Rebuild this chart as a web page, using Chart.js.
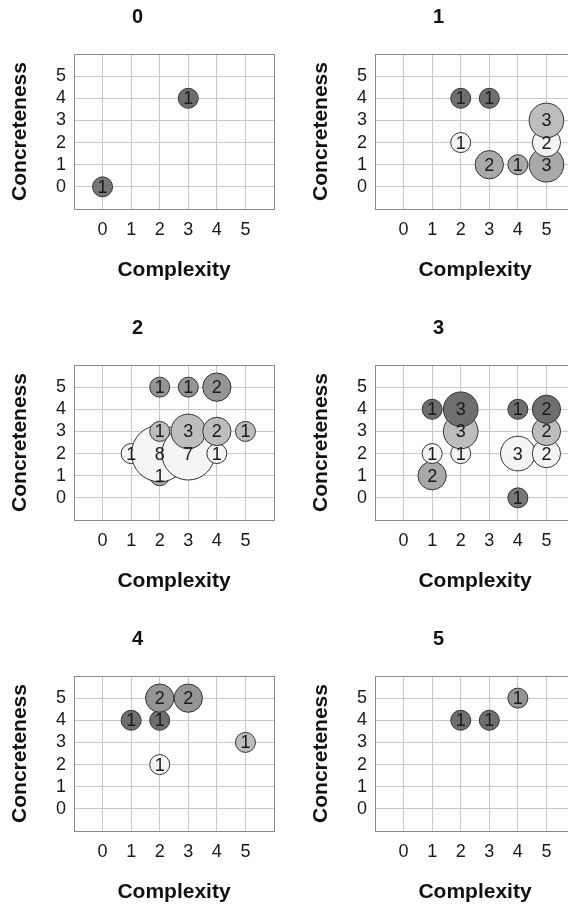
<!DOCTYPE html>
<html>
<head>
<meta charset="utf-8">
<script src="https://cdn.jsdelivr.net/npm/chart.js@4.4.1/dist/chart.umd.min.js"></script>
<style>
  html, body { margin: 0; padding: 0; width: 568px; height: 906px; overflow: hidden; background: #fff; }
  canvas { position: absolute; }
</style>
</head>
<body>
<canvas id="c0" width="284" height="300" style="left:0;top:0"></canvas>
<canvas id="c1" width="284" height="300" style="left:301px;top:0"></canvas>
<canvas id="c2" width="284" height="300" style="left:0;top:311px"></canvas>
<canvas id="c3" width="284" height="300" style="left:301px;top:311px"></canvas>
<canvas id="c4" width="284" height="300" style="left:0;top:622px"></canvas>
<canvas id="c5" width="284" height="300" style="left:301px;top:622px"></canvas>
<script>
// dados de cada painel (x = complexidade, y = concretude, n = quantidade)
const panelTitles = ["0", "1", "2", "3", "4", "5"];
const tickLabels = ["0", "1", "2", "3", "4", "5"];

const complexity0 = [0, 3];
const concreteness0 = [0, 4];
const count0 = [1, 1];

const complexity1 = [3, 4, 5, 2, 5, 5, 2, 3];
const concreteness1 = [1, 1, 1, 2, 2, 3, 4, 4];
const count1 = [2, 1, 3, 1, 2, 3, 1, 1];

const complexity2 = [2, 1, 2, 3, 4, 2, 3, 4, 5, 2, 3, 4];
const concreteness2 = [1, 2, 2, 2, 2, 3, 3, 3, 3, 5, 5, 5];
const count2 = [1, 1, 8, 7, 1, 1, 3, 2, 1, 1, 1, 2];

const complexity3 = [4, 1, 1, 2, 4, 5, 2, 5, 1, 2, 4, 5];
const concreteness3 = [0, 1, 2, 2, 2, 2, 3, 3, 4, 4, 4, 4];
const count3 = [1, 2, 1, 1, 3, 2, 3, 2, 1, 3, 1, 2];

const complexity4 = [2, 5, 1, 2, 2, 3];
const concreteness4 = [2, 3, 4, 4, 5, 5];
const count4 = [1, 1, 1, 1, 2, 2];

const complexity5 = [2, 3, 4];
const concreteness5 = [4, 4, 5];
const count5 = [1, 1, 1];

const panels = [
  [complexity0, concreteness0, count0],
  [complexity1, concreteness1, count1],
  [complexity2, concreteness2, count2],
  [complexity3, concreteness3, count3],
  [complexity4, concreteness4, count4],
  [complexity5, concreteness5, count5]
];

// tons de cinza por nivel de concretude
const tons = { 0: "#777777", 1: "#a9a9a9", 2: "#f4f4f4", 3: "#bdbdbd", 4: "#6e6e6e", 5: "#959595" };
const fonte = "'Liberation Sans', Arial, Helvetica, sans-serif";

const rotulos = {
  id: "rotulos",
  afterDatasetsDraw(chart) {
    const ctx = chart.ctx;
    const meta = chart.getDatasetMeta(0);
    const counts = chart.data.datasets[0].counts;
    ctx.save();
    ctx.font = "18px " + fonte;
    ctx.fillStyle = "#1a1a1a";
    ctx.textAlign = "center";
    ctx.textBaseline = "middle";
    meta.data.forEach((el, i) => {
      ctx.fillText(String(counts[i]), el.x, el.y + 1);
    });
    ctx.restore();
  }
};

function corGrade(c) {
  if (c.tick && (c.tick.value === -1 || c.tick.value === 6)) return "#8a8a8a";
  return "#c8c8c8";
}

function rotuloTick(v) {
  return tickLabels.includes(String(v)) ? String(v) : "";
}

panels.forEach((p, k) => {
  const [xs, ys, ns] = p;
  const pontos = xs.map((x, i) => ({ x: x, y: ys[i], r: 10 * Math.sqrt(ns[i]) }));

  new Chart(document.getElementById("c" + k), {
    type: "bubble",
    data: {
      datasets: [{
        data: pontos,
        counts: ns,
        backgroundColor: (c) => tons[c.raw ? c.raw.y : 0],
        borderColor: "#333",
        borderWidth: 1
      }]
    },
    plugins: [rotulos],
    options: {
      responsive: false,
      animation: false,
      events: [],
      layout: { autoPadding: false, padding: { left: 0, right: 9, top: 0, bottom: 0 } },
      plugins: {
        legend: { display: false },
        tooltip: { enabled: false },
        title: {
          display: true,
          text: panelTitles[k],
          color: "#111",
          font: { family: fonte, size: 20, weight: "bold" },
          padding: { top: 5.5, bottom: 24.5 }
        }
      },
      scales: {
        x: {
          type: "linear",
          min: -1,
          max: 6,
          afterFit: (s) => { s.height = 91; },
          ticks: { stepSize: 1, autoSkip: false, maxRotation: 0, callback: rotuloTick, padding: 10, color: "#1a1a1a", font: { family: fonte, size: 18 } },
          grid: { color: corGrade, drawTicks: false },
          border: { color: "#8a8a8a" },
          title: {
            display: true,
            text: "Complexity",
            color: "#111",
            font: { family: fonte, size: 21, weight: "bold" },
            padding: { top: 0, bottom: 17.4 }
          }
        },
        y: {
          type: "linear",
          min: -1,
          max: 6,
          afterFit: (s) => { s.width = 74; },
          ticks: { stepSize: 1, autoSkip: false, callback: rotuloTick, padding: 8, color: "#1a1a1a", font: { family: fonte, size: 18 } },
          grid: { color: corGrade, drawTicks: false },
          border: { color: "#8a8a8a" },
          title: {
            display: true,
            text: "Concreteness",
            color: "#111",
            font: { family: fonte, size: 21, weight: "bold" },
            padding: { top: 7.4, bottom: 0 }
          }
        }
      }
    }
  });
});
</script>
</body>
</html>
